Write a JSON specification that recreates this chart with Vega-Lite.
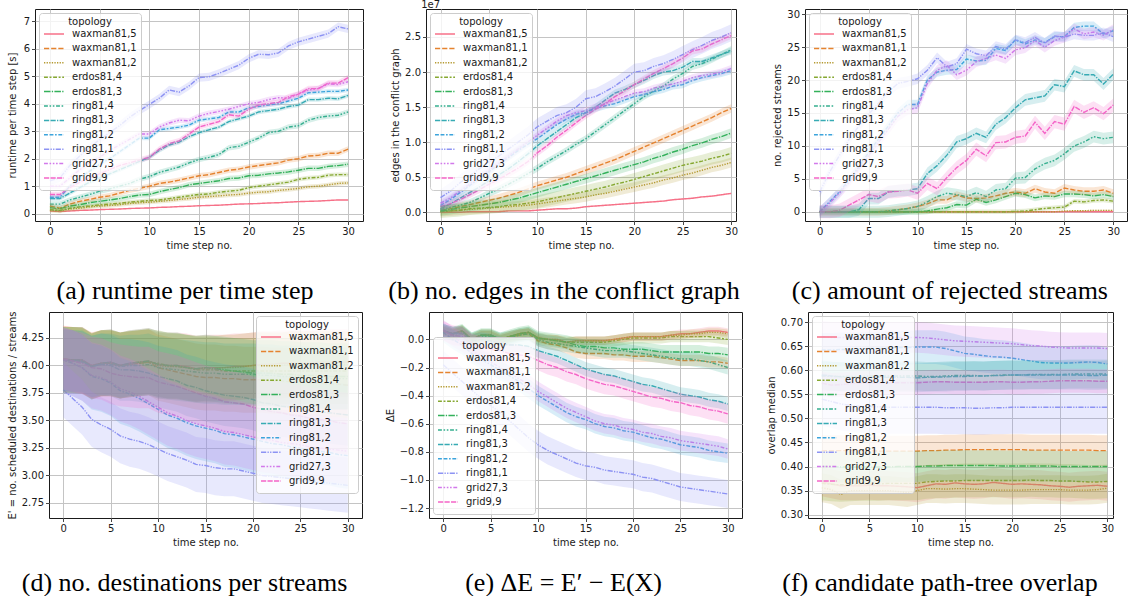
{
"$schema":"https://vega.github.io/schema/vega-lite/v6.json",
"background":"white",
"padding":{"left":6,"top":-1,"right":0,"bottom":0},
"datasets":{
"ser":[
{"k":"w5","n":"waxman81,5","ea":0.02,"eb":0.01,"ec":0.03,"ed":0.3,"ee":0.03,"ef":0.03},
{"k":"w1","n":"waxman81,1","ea":0.1,"eb":0.06,"ec":0.6,"ed":0.3,"ee":0.04,"ef":0.032},
{"k":"w2","n":"waxman81,2","ea":0.08,"eb":0.07,"ec":0.1,"ed":0.3,"ee":0.03,"ef":0.03},
{"k":"e4","n":"erdos81,4","ea":0.08,"eb":0.09,"ec":0.35,"ed":0.3,"ee":0.04,"ef":0.035},
{"k":"e3","n":"erdos81,3","ea":0.1,"eb":0.07,"ec":0.5,"ed":0.3,"ee":0.05,"ef":0.032},
{"k":"r4","n":"ring81,4","ea":0.1,"eb":0.05,"ec":0.9,"ed":0.28,"ee":0.05,"ef":0.03},
{"k":"r3","n":"ring81,3","ea":0.08,"eb":0.05,"ec":0.9,"ed":0.28,"ee":0.05,"ef":0.03},
{"k":"r2","n":"ring81,2","ea":0.08,"eb":0.05,"ec":0.7,"ed":0.3,"ee":0.07,"ef":0.035},
{"k":"r1","n":"ring81,1","ea":0.15,"eb":0.12,"ec":0.8,"ed":0.25,"ee":0.1,"ef":0.055},
{"k":"g27","n":"grid27,3","ea":0.1,"eb":0.05,"ec":0.8,"ed":0.3,"ee":0.07,"ef":0.032},
{"k":"g9","n":"grid9,9","ea":0.1,"eb":0.05,"ec":1.0,"ed":0.28,"ee":0.07,"ef":0.025}
],
"lbl":[{"s":"1e7"}],
"a":[
{"t":0,"w5":0.1,"w1":0.28,"w2":0.12,"e4":0.15,"e3":0.22,"r4":0.35,"r3":0.55,"r2":0.6,"r1":1.2,"g27":1.0,"g9":0.7},
{"t":1,"w5":0.08,"w1":0.2,"w2":0.1,"e4":0.12,"e3":0.18,"r4":0.35,"r3":0.55,"r2":0.6,"r1":1.3,"g27":1.0,"g9":0.7},
{"t":2,"w5":0.1,"w1":0.35,"w2":0.17,"e4":0.2,"e3":0.28,"r4":0.5,"r3":0.75,"r2":1.0,"r1":1.75,"g27":1.3,"g9":0.95},
{"t":3,"w5":0.12,"w1":0.45,"w2":0.2,"e4":0.25,"e3":0.33,"r4":0.6,"r3":0.95,"r2":1.3,"r1":2.1,"g27":1.6,"g9":1.15},
{"t":4,"w5":0.13,"w1":0.52,"w2":0.25,"e4":0.28,"e3":0.4,"r4":0.7,"r3":1.15,"r2":1.55,"r1":2.4,"g27":1.85,"g9":1.3},
{"t":5,"w5":0.15,"w1":0.6,"w2":0.28,"e4":0.32,"e3":0.45,"r4":0.82,"r3":1.3,"r2":1.8,"r1":2.7,"g27":2.05,"g9":1.45},
{"t":6,"w5":0.16,"w1":0.65,"w2":0.3,"e4":0.35,"e3":0.5,"r4":0.9,"r3":1.45,"r2":2.0,"r1":2.95,"g27":2.3,"g9":1.6},
{"t":7,"w5":0.17,"w1":0.75,"w2":0.33,"e4":0.38,"e3":0.55,"r4":1.0,"r3":1.6,"r2":2.25,"r1":3.2,"g27":2.5,"g9":1.75},
{"t":8,"w5":0.19,"w1":0.85,"w2":0.37,"e4":0.42,"e3":0.62,"r4":1.1,"r3":1.75,"r2":2.5,"r1":3.5,"g27":2.7,"g9":1.85},
{"t":9,"w5":0.2,"w1":0.92,"w2":0.4,"e4":0.45,"e3":0.68,"r4":1.25,"r3":1.9,"r2":2.75,"r1":3.75,"g27":2.9,"g9":1.95},
{"t":10,"w5":0.21,"w1":1.0,"w2":0.42,"e4":0.48,"e3":0.7,"r4":1.35,"r3":2.05,"r2":2.75,"r1":3.97,"g27":2.9,"g9":2.05},
{"t":11,"w5":0.23,"w1":1.1,"w2":0.45,"e4":0.5,"e3":0.8,"r4":1.5,"r3":2.3,"r2":3.05,"r1":4.2,"g27":3.15,"g9":2.35},
{"t":12,"w5":0.24,"w1":1.15,"w2":0.48,"e4":0.55,"e3":0.88,"r4":1.6,"r3":2.5,"r2":3.1,"r1":4.5,"g27":3.3,"g9":2.55},
{"t":13,"w5":0.26,"w1":1.22,"w2":0.52,"e4":0.6,"e3":0.95,"r4":1.7,"r3":2.6,"r2":3.15,"r1":4.42,"g27":3.4,"g9":2.65},
{"t":14,"w5":0.27,"w1":1.3,"w2":0.55,"e4":0.65,"e3":1.05,"r4":1.85,"r3":2.8,"r2":3.22,"r1":4.65,"g27":3.38,"g9":2.9},
{"t":15,"w5":0.29,"w1":1.38,"w2":0.6,"e4":0.7,"e3":1.1,"r4":1.97,"r3":2.95,"r2":3.4,"r1":4.95,"g27":3.55,"g9":3.15},
{"t":16,"w5":0.3,"w1":1.42,"w2":0.62,"e4":0.72,"e3":1.15,"r4":2.05,"r3":3.05,"r2":3.45,"r1":4.98,"g27":3.65,"g9":3.25},
{"t":17,"w5":0.31,"w1":1.5,"w2":0.65,"e4":0.78,"e3":1.2,"r4":2.15,"r3":3.15,"r2":3.5,"r1":5.1,"g27":3.72,"g9":3.35},
{"t":18,"w5":0.33,"w1":1.58,"w2":0.68,"e4":0.82,"e3":1.28,"r4":2.4,"r3":3.35,"r2":3.7,"r1":5.25,"g27":3.8,"g9":3.6},
{"t":19,"w5":0.35,"w1":1.62,"w2":0.7,"e4":0.85,"e3":1.3,"r4":2.45,"r3":3.45,"r2":3.7,"r1":5.4,"g27":3.9,"g9":3.55},
{"t":20,"w5":0.36,"w1":1.7,"w2":0.75,"e4":0.95,"e3":1.38,"r4":2.6,"r3":3.55,"r2":3.85,"r1":5.65,"g27":4.0,"g9":3.8},
{"t":21,"w5":0.37,"w1":1.75,"w2":0.78,"e4":1.0,"e3":1.4,"r4":2.75,"r3":3.7,"r2":3.9,"r1":5.8,"g27":4.05,"g9":3.95},
{"t":22,"w5":0.39,"w1":1.8,"w2":0.8,"e4":1.05,"e3":1.45,"r4":2.95,"r3":3.75,"r2":3.95,"r1":5.78,"g27":4.15,"g9":4.0},
{"t":23,"w5":0.4,"w1":1.85,"w2":0.85,"e4":1.1,"e3":1.48,"r4":3.0,"r3":3.8,"r2":4.0,"r1":5.85,"g27":4.22,"g9":4.05},
{"t":24,"w5":0.42,"w1":1.95,"w2":0.88,"e4":1.15,"e3":1.52,"r4":3.15,"r3":3.9,"r2":4.1,"r1":6.1,"g27":4.2,"g9":4.25},
{"t":25,"w5":0.44,"w1":2.0,"w2":0.92,"e4":1.25,"e3":1.58,"r4":3.2,"r3":3.95,"r2":4.2,"r1":6.25,"g27":4.35,"g9":4.35},
{"t":26,"w5":0.45,"w1":2.1,"w2":0.98,"e4":1.3,"e3":1.65,"r4":3.4,"r3":4.15,"r2":4.4,"r1":6.35,"g27":4.5,"g9":4.55},
{"t":27,"w5":0.46,"w1":2.12,"w2":1.0,"e4":1.32,"e3":1.65,"r4":3.5,"r3":4.15,"r2":4.42,"r1":6.45,"g27":4.55,"g9":4.55},
{"t":28,"w5":0.48,"w1":2.2,"w2":1.05,"e4":1.4,"e3":1.72,"r4":3.55,"r3":4.2,"r2":4.45,"r1":6.55,"g27":4.72,"g9":4.75},
{"t":29,"w5":0.5,"w1":2.2,"w2":1.1,"e4":1.42,"e3":1.75,"r4":3.58,"r3":4.18,"r2":4.45,"r1":6.8,"g27":4.7,"g9":4.75},
{"t":30,"w5":0.5,"w1":2.35,"w2":1.12,"e4":1.42,"e3":1.8,"r4":3.7,"r3":4.3,"r2":4.5,"r1":6.72,"g27":4.8,"g9":4.95}
],
"b":[
{"t":0,"w5":0,"w1":0.03,"w2":0.01,"e4":0.01,"e3":0.02,"r4":0.04,"r3":0.05,"r2":0.1,"r1":0.21,"g27":0.13,"g9":0.08},
{"t":1,"w5":0,"w1":0.05,"w2":0.02,"e4":0.02,"e3":0.04,"r4":0.07,"r3":0.12,"r2":0.18,"r1":0.3,"g27":0.2,"g9":0.12},
{"t":2,"w5":0,"w1":0.08,"w2":0.03,"e4":0.03,"e3":0.06,"r4":0.1,"r3":0.2,"r2":0.28,"r1":0.42,"g27":0.3,"g9":0.18},
{"t":3,"w5":0.01,"w1":0.11,"w2":0.04,"e4":0.05,"e3":0.08,"r4":0.14,"r3":0.28,"r2":0.38,"r1":0.52,"g27":0.4,"g9":0.25},
{"t":4,"w5":0.01,"w1":0.14,"w2":0.05,"e4":0.06,"e3":0.1,"r4":0.2,"r3":0.36,"r2":0.48,"r1":0.62,"g27":0.5,"g9":0.32},
{"t":5,"w5":0.01,"w1":0.17,"w2":0.06,"e4":0.07,"e3":0.12,"r4":0.27,"r3":0.45,"r2":0.58,"r1":0.72,"g27":0.6,"g9":0.4},
{"t":6,"w5":0.01,"w1":0.2,"w2":0.07,"e4":0.08,"e3":0.14,"r4":0.33,"r3":0.53,"r2":0.68,"r1":0.8,"g27":0.7,"g9":0.47},
{"t":7,"w5":0.02,"w1":0.24,"w2":0.08,"e4":0.1,"e3":0.17,"r4":0.4,"r3":0.62,"r2":0.78,"r1":0.9,"g27":0.8,"g9":0.55},
{"t":8,"w5":0.02,"w1":0.28,"w2":0.09,"e4":0.11,"e3":0.2,"r4":0.47,"r3":0.72,"r2":0.88,"r1":1.0,"g27":0.9,"g9":0.63},
{"t":9,"w5":0.02,"w1":0.33,"w2":0.1,"e4":0.13,"e3":0.24,"r4":0.55,"r3":0.83,"r2":0.97,"r1":1.1,"g27":1.0,"g9":0.72},
{"t":10,"w5":0.03,"w1":0.38,"w2":0.12,"e4":0.15,"e3":0.28,"r4":0.63,"r3":0.95,"r2":1.05,"r1":1.22,"g27":1.1,"g9":0.85},
{"t":11,"w5":0.04,"w1":0.42,"w2":0.14,"e4":0.18,"e3":0.32,"r4":0.72,"r3":1.05,"r2":1.15,"r1":1.3,"g27":1.2,"g9":0.95},
{"t":12,"w5":0.05,"w1":0.46,"w2":0.16,"e4":0.21,"e3":0.36,"r4":0.8,"r3":1.15,"r2":1.25,"r1":1.38,"g27":1.3,"g9":1.07},
{"t":13,"w5":0.05,"w1":0.5,"w2":0.18,"e4":0.24,"e3":0.4,"r4":0.88,"r3":1.25,"r2":1.33,"r1":1.42,"g27":1.38,"g9":1.17},
{"t":14,"w5":0.06,"w1":0.55,"w2":0.2,"e4":0.27,"e3":0.44,"r4":0.97,"r3":1.35,"r2":1.4,"r1":1.5,"g27":1.42,"g9":1.28},
{"t":15,"w5":0.08,"w1":0.6,"w2":0.22,"e4":0.3,"e3":0.48,"r4":1.05,"r3":1.42,"r2":1.42,"r1":1.62,"g27":1.45,"g9":1.38},
{"t":16,"w5":0.09,"w1":0.65,"w2":0.25,"e4":0.33,"e3":0.52,"r4":1.15,"r3":1.5,"r2":1.48,"r1":1.65,"g27":1.5,"g9":1.47},
{"t":17,"w5":0.1,"w1":0.7,"w2":0.27,"e4":0.36,"e3":0.56,"r4":1.25,"r3":1.6,"r2":1.52,"r1":1.72,"g27":1.55,"g9":1.55},
{"t":18,"w5":0.11,"w1":0.75,"w2":0.3,"e4":0.4,"e3":0.6,"r4":1.35,"r3":1.7,"r2":1.55,"r1":1.8,"g27":1.6,"g9":1.65},
{"t":19,"w5":0.12,"w1":0.81,"w2":0.33,"e4":0.43,"e3":0.64,"r4":1.45,"r3":1.75,"r2":1.6,"r1":1.9,"g27":1.65,"g9":1.73},
{"t":20,"w5":0.13,"w1":0.87,"w2":0.36,"e4":0.47,"e3":0.68,"r4":1.55,"r3":1.82,"r2":1.65,"r1":2.0,"g27":1.7,"g9":1.82},
{"t":21,"w5":0.14,"w1":0.93,"w2":0.39,"e4":0.51,"e3":0.72,"r4":1.65,"r3":1.88,"r2":1.68,"r1":2.02,"g27":1.72,"g9":1.9},
{"t":22,"w5":0.15,"w1":0.99,"w2":0.42,"e4":0.55,"e3":0.77,"r4":1.73,"r3":1.95,"r2":1.72,"r1":2.08,"g27":1.77,"g9":1.98},
{"t":23,"w5":0.16,"w1":1.05,"w2":0.46,"e4":0.59,"e3":0.81,"r4":1.8,"r3":2.0,"r2":1.75,"r1":2.12,"g27":1.8,"g9":2.05},
{"t":24,"w5":0.18,"w1":1.11,"w2":0.49,"e4":0.63,"e3":0.86,"r4":1.9,"r3":2.02,"r2":1.8,"r1":2.18,"g27":1.83,"g9":2.12},
{"t":25,"w5":0.19,"w1":1.17,"w2":0.53,"e4":0.67,"e3":0.9,"r4":1.98,"r3":2.07,"r2":1.82,"r1":2.25,"g27":1.87,"g9":2.2},
{"t":26,"w5":0.2,"w1":1.23,"w2":0.56,"e4":0.7,"e3":0.95,"r4":2.08,"r3":2.15,"r2":1.88,"r1":2.32,"g27":1.92,"g9":2.3},
{"t":27,"w5":0.22,"w1":1.29,"w2":0.6,"e4":0.73,"e3":0.99,"r4":2.12,"r3":2.15,"r2":1.92,"r1":2.38,"g27":1.95,"g9":2.33},
{"t":28,"w5":0.23,"w1":1.35,"w2":0.64,"e4":0.77,"e3":1.04,"r4":2.18,"r3":2.2,"r2":1.95,"r1":2.45,"g27":1.97,"g9":2.4},
{"t":29,"w5":0.25,"w1":1.42,"w2":0.67,"e4":0.8,"e3":1.08,"r4":2.25,"r3":2.25,"r2":1.98,"r1":2.5,"g27":2.0,"g9":2.46},
{"t":30,"w5":0.27,"w1":1.48,"w2":0.71,"e4":0.84,"e3":1.13,"r4":2.32,"r3":2.3,"r2":2.02,"r1":2.56,"g27":2.05,"g9":2.52}
],
"c":[
{"t":0,"w5":0,"w1":0,"w2":0,"e4":0,"e3":0,"r4":0,"r3":0,"r2":0,"r1":3,"g27":0,"g9":0},
{"t":1,"w5":0,"w1":0,"w2":0,"e4":0,"e3":0,"r4":0,"r3":0,"r2":1.5,"r1":6,"g27":1.3,"g9":0},
{"t":2,"w5":0,"w1":0,"w2":0,"e4":0,"e3":0,"r4":0,"r3":0,"r2":3,"r1":8.5,"g27":2.8,"g9":0.2},
{"t":3,"w5":0,"w1":0,"w2":0,"e4":0,"e3":0,"r4":0,"r3":0,"r2":4.8,"r1":11,"g27":4.5,"g9":1},
{"t":4,"w5":0,"w1":0,"w2":0,"e4":0,"e3":0,"r4":0,"r3":0.3,"r2":6.8,"r1":13,"g27":6.5,"g9":1.8},
{"t":5,"w5":0,"w1":0,"w2":0,"e4":0,"e3":0,"r4":0,"r3":2,"r2":9,"r1":14.8,"g27":8.5,"g9":2.6},
{"t":6,"w5":0,"w1":0,"w2":0,"e4":0,"e3":0,"r4":0,"r3":2,"r2":11,"r1":16.5,"g27":10.5,"g9":2.3},
{"t":7,"w5":0,"w1":0.1,"w2":0,"e4":0,"e3":0,"r4":0.1,"r3":3,"r2":13,"r1":18.2,"g27":12.5,"g9":3},
{"t":8,"w5":0,"w1":0.3,"w2":0,"e4":0,"e3":0,"r4":0.3,"r3":3.2,"r2":15,"r1":19.5,"g27":14.5,"g9":3.1},
{"t":9,"w5":0,"w1":0.5,"w2":0,"e4":0,"e3":0,"r4":0.5,"r3":3.3,"r2":16.3,"r1":19.8,"g27":15.5,"g9":3.3},
{"t":10,"w5":0,"w1":0.8,"w2":0,"e4":0,"e3":0,"r4":0.8,"r3":3.5,"r2":16.3,"r1":20.2,"g27":15.8,"g9":2.8},
{"t":11,"w5":0,"w1":1.2,"w2":0,"e4":0,"e3":0.1,"r4":1.5,"r3":5.8,"r2":20,"r1":21.5,"g27":19.5,"g9":4.3},
{"t":12,"w5":0,"w1":1.8,"w2":0,"e4":0,"e3":0.4,"r4":2.3,"r3":7,"r2":21.2,"r1":23.4,"g27":21.5,"g9":3.5},
{"t":13,"w5":0,"w1":1.8,"w2":0,"e4":0,"e3":0.6,"r4":2.8,"r3":8.6,"r2":21.5,"r1":22,"g27":22.2,"g9":5.2},
{"t":14,"w5":0,"w1":2.5,"w2":0,"e4":0,"e3":1.1,"r4":2.6,"r3":10.6,"r2":21.6,"r1":22.5,"g27":20.8,"g9":6.7},
{"t":15,"w5":0,"w1":2.1,"w2":0,"e4":0,"e3":1,"r4":2.3,"r3":11.1,"r2":23.2,"r1":24.7,"g27":21.5,"g9":7.8},
{"t":16,"w5":0,"w1":2,"w2":0,"e4":0,"e3":1.9,"r4":2.9,"r3":11.9,"r2":22.9,"r1":24,"g27":22.8,"g9":9.5},
{"t":17,"w5":0,"w1":2.1,"w2":0,"e4":0,"e3":1.4,"r4":2.3,"r3":11.3,"r2":23,"r1":23.7,"g27":23.3,"g9":8.5},
{"t":18,"w5":0,"w1":2.4,"w2":0,"e4":0,"e3":1.8,"r4":3.3,"r3":13.3,"r2":24.8,"r1":25.1,"g27":23.8,"g9":10.5},
{"t":19,"w5":0,"w1":2.8,"w2":0,"e4":0,"e3":2.3,"r4":3.5,"r3":14.3,"r2":24.5,"r1":24.7,"g27":23.3,"g9":10.6},
{"t":20,"w5":0,"w1":3,"w2":0,"e4":0.05,"e3":2.8,"r4":5.1,"r3":15.8,"r2":26.1,"r1":26.1,"g27":24.6,"g9":11.3},
{"t":21,"w5":0,"w1":2.8,"w2":0,"e4":0.1,"e3":2.6,"r4":5.2,"r3":17,"r2":25.5,"r1":25.7,"g27":24.9,"g9":11.5},
{"t":22,"w5":0,"w1":3.5,"w2":0,"e4":0.3,"e3":2.1,"r4":6.5,"r3":17.3,"r2":26.1,"r1":26.5,"g27":26,"g9":13.6},
{"t":23,"w5":0,"w1":3,"w2":0,"e4":0.5,"e3":2.4,"r4":7.3,"r3":17.6,"r2":25.7,"r1":25.6,"g27":25,"g9":11.9},
{"t":24,"w5":0,"w1":2.8,"w2":0,"e4":0.6,"e3":2.3,"r4":7.8,"r3":19.3,"r2":26.6,"r1":26.7,"g27":26,"g9":13.7},
{"t":25,"w5":0,"w1":3.6,"w2":0.1,"e4":0.7,"e3":2.7,"r4":8.8,"r3":19,"r2":26.6,"r1":26.5,"g27":26.5,"g9":13.3},
{"t":26,"w5":0,"w1":3.3,"w2":0.15,"e4":1.6,"e3":2.7,"r4":10,"r3":21.4,"r2":28,"r1":27,"g27":27.8,"g9":16},
{"t":27,"w5":0,"w1":3.1,"w2":0.15,"e4":1.5,"e3":2.6,"r4":10.6,"r3":20.8,"r2":28.2,"r1":26.8,"g27":27,"g9":15.1},
{"t":28,"w5":0,"w1":3.1,"w2":0.2,"e4":1.7,"e3":2.4,"r4":11.4,"r3":20.8,"r2":28.2,"r1":26.8,"g27":27.3,"g9":15.8},
{"t":29,"w5":0,"w1":3.3,"w2":0.2,"e4":1.8,"e3":2.6,"r4":11.1,"r3":19.4,"r2":27,"r1":27.2,"g27":26.8,"g9":14.9},
{"t":30,"w5":0,"w1":2.8,"w2":0.2,"e4":1.6,"e3":2.3,"r4":11.3,"r3":20.9,"r2":27.5,"r1":26.6,"g27":27.7,"g9":16.2}
],
"d":[
{"t":0,"w5":4.06,"w1":4.06,"w2":4.05,"e4":4.05,"e3":4.05,"r4":4.05,"r3":4.05,"r2":4.05,"r1":3.78,"g27":4.05,"g9":4.06},
{"t":1,"w5":4.05,"w1":4.05,"w2":4.05,"e4":4.05,"e3":4.05,"r4":4.04,"r3":4.04,"r2":4.02,"r1":3.7,"g27":4.02,"g9":4.04},
{"t":2,"w5":4.05,"w1":4.05,"w2":4.04,"e4":4.04,"e3":4.05,"r4":4.04,"r3":4.03,"r2":3.98,"r1":3.62,"g27":3.98,"g9":4.02},
{"t":3,"w5":4.0,"w1":3.99,"w2":4.0,"e4":3.99,"e3":3.99,"r4":3.99,"r3":3.99,"r2":3.9,"r1":3.51,"g27":3.91,"g9":3.98},
{"t":4,"w5":4.02,"w1":4.02,"w2":4.02,"e4":4.02,"e3":4.02,"r4":4.01,"r3":4.01,"r2":3.88,"r1":3.46,"g27":3.89,"g9":3.97},
{"t":5,"w5":4.03,"w1":4.02,"w2":4.02,"e4":4.02,"e3":4.03,"r4":4.01,"r3":4.0,"r2":3.84,"r1":3.42,"g27":3.85,"g9":3.93},
{"t":6,"w5":4.0,"w1":4.0,"w2":4.0,"e4":4.0,"e3":4.0,"r4":3.99,"r3":3.96,"r2":3.77,"r1":3.36,"g27":3.79,"g9":3.91},
{"t":7,"w5":4.02,"w1":4.01,"w2":4.01,"e4":4.01,"e3":4.02,"r4":4.0,"r3":3.96,"r2":3.74,"r1":3.33,"g27":3.76,"g9":3.9},
{"t":8,"w5":4.03,"w1":4.02,"w2":4.02,"e4":4.02,"e3":4.03,"r4":4.0,"r3":3.95,"r2":3.7,"r1":3.31,"g27":3.72,"g9":3.89},
{"t":9,"w5":4.04,"w1":4.03,"w2":4.03,"e4":4.03,"e3":4.04,"r4":4.01,"r3":3.93,"r2":3.65,"r1":3.28,"g27":3.67,"g9":3.89},
{"t":10,"w5":4.01,"w1":3.98,"w2":4.0,"e4":4.02,"e3":4.01,"r4":3.98,"r3":3.9,"r2":3.6,"r1":3.24,"g27":3.62,"g9":3.85},
{"t":11,"w5":4.0,"w1":3.96,"w2":3.99,"e4":4.0,"e3":4.0,"r4":3.97,"r3":3.88,"r2":3.55,"r1":3.2,"g27":3.57,"g9":3.83},
{"t":12,"w5":4.0,"w1":3.94,"w2":3.99,"e4":3.99,"e3":4.0,"r4":3.96,"r3":3.86,"r2":3.52,"r1":3.17,"g27":3.54,"g9":3.81},
{"t":13,"w5":3.99,"w1":3.92,"w2":3.98,"e4":3.98,"e3":3.98,"r4":3.95,"r3":3.82,"r2":3.48,"r1":3.14,"g27":3.5,"g9":3.78},
{"t":14,"w5":3.97,"w1":3.9,"w2":3.97,"e4":3.96,"e3":3.97,"r4":3.94,"r3":3.8,"r2":3.45,"r1":3.1,"g27":3.47,"g9":3.75},
{"t":15,"w5":3.98,"w1":3.89,"w2":3.97,"e4":3.96,"e3":3.98,"r4":3.93,"r3":3.77,"r2":3.43,"r1":3.09,"g27":3.45,"g9":3.72},
{"t":16,"w5":3.98,"w1":3.89,"w2":3.97,"e4":3.96,"e3":3.97,"r4":3.93,"r3":3.75,"r2":3.41,"r1":3.07,"g27":3.43,"g9":3.7},
{"t":17,"w5":3.98,"w1":3.88,"w2":3.98,"e4":3.95,"e3":3.96,"r4":3.92,"r3":3.73,"r2":3.38,"r1":3.06,"g27":3.4,"g9":3.67},
{"t":18,"w5":3.99,"w1":3.88,"w2":3.98,"e4":3.95,"e3":3.95,"r4":3.92,"r3":3.72,"r2":3.37,"r1":3.06,"g27":3.39,"g9":3.66},
{"t":19,"w5":3.99,"w1":3.87,"w2":3.99,"e4":3.95,"e3":3.94,"r4":3.92,"r3":3.71,"r2":3.35,"r1":3.04,"g27":3.37,"g9":3.65},
{"t":20,"w5":4.0,"w1":3.87,"w2":4.0,"e4":3.95,"e3":3.93,"r4":3.92,"r3":3.69,"r2":3.33,"r1":3.02,"g27":3.35,"g9":3.62},
{"t":21,"w5":4.01,"w1":3.87,"w2":4.0,"e4":3.95,"e3":3.93,"r4":3.91,"r3":3.66,"r2":3.31,"r1":3.0,"g27":3.33,"g9":3.6},
{"t":22,"w5":4.01,"w1":3.86,"w2":4.0,"e4":3.95,"e3":3.93,"r4":3.91,"r3":3.65,"r2":3.29,"r1":2.99,"g27":3.32,"g9":3.58},
{"t":23,"w5":4.02,"w1":3.86,"w2":4.0,"e4":3.95,"e3":3.92,"r4":3.9,"r3":3.63,"r2":3.28,"r1":2.98,"g27":3.3,"g9":3.57},
{"t":24,"w5":4.02,"w1":3.85,"w2":4.01,"e4":3.95,"e3":3.92,"r4":3.9,"r3":3.62,"r2":3.26,"r1":2.97,"g27":3.29,"g9":3.55},
{"t":25,"w5":4.02,"w1":3.85,"w2":4.01,"e4":3.95,"e3":3.91,"r4":3.9,"r3":3.61,"r2":3.25,"r1":2.96,"g27":3.28,"g9":3.54},
{"t":26,"w5":4.02,"w1":3.84,"w2":4.01,"e4":3.95,"e3":3.91,"r4":3.89,"r3":3.59,"r2":3.23,"r1":2.95,"g27":3.26,"g9":3.52},
{"t":27,"w5":4.03,"w1":3.84,"w2":4.01,"e4":3.95,"e3":3.91,"r4":3.89,"r3":3.58,"r2":3.22,"r1":2.94,"g27":3.25,"g9":3.51},
{"t":28,"w5":4.03,"w1":3.83,"w2":4.01,"e4":3.95,"e3":3.9,"r4":3.88,"r3":3.57,"r2":3.21,"r1":2.93,"g27":3.24,"g9":3.5},
{"t":29,"w5":4.03,"w1":3.83,"w2":4.01,"e4":3.95,"e3":3.9,"r4":3.88,"r3":3.56,"r2":3.19,"r1":2.92,"g27":3.23,"g9":3.48},
{"t":30,"w5":4.03,"w1":3.82,"w2":4.01,"e4":3.95,"e3":3.9,"r4":3.88,"r3":3.55,"r2":3.18,"r1":2.91,"g27":3.22,"g9":3.47}
],
"e":[
{"t":0,"w5":0.06,"w1":0.06,"w2":0.06,"e4":0.06,"e3":0.06,"r4":0.06,"r3":0.06,"r2":0.05,"r1":-0.18,"g27":0.07,"g9":0.06},
{"t":1,"w5":0.04,"w1":0.04,"w2":0.04,"e4":0.04,"e3":0.04,"r4":0.04,"r3":0.04,"r2":0,"r1":-0.24,"g27":0.02,"g9":0.03},
{"t":2,"w5":0.06,"w1":0.06,"w2":0.06,"e4":0.06,"e3":0.06,"r4":0.05,"r3":0.04,"r2":-0.04,"r1":-0.3,"g27":-0.02,"g9":0.02},
{"t":3,"w5":0,"w1":0,"w2":0,"e4":0,"e3":0,"r4":0,"r3":-0.01,"r2":-0.1,"r1":-0.36,"g27":-0.08,"g9":-0.03},
{"t":4,"w5":0.03,"w1":0.03,"w2":0.03,"e4":0.03,"e3":0.03,"r4":0.02,"r3":0,"r2":-0.14,"r1":-0.42,"g27":-0.12,"g9":-0.05},
{"t":5,"w5":0.03,"w1":0.03,"w2":0.03,"e4":0.03,"e3":0.03,"r4":0.02,"r3":-0.01,"r2":-0.18,"r1":-0.47,"g27":-0.16,"g9":-0.07},
{"t":6,"w5":0,"w1":0,"w2":0,"e4":0,"e3":0,"r4":0,"r3":-0.03,"r2":-0.22,"r1":-0.52,"g27":-0.2,"g9":-0.08},
{"t":7,"w5":0.02,"w1":0.02,"w2":0.02,"e4":0.02,"e3":0.02,"r4":0.01,"r3":-0.04,"r2":-0.26,"r1":-0.58,"g27":-0.24,"g9":-0.1},
{"t":8,"w5":0.04,"w1":0.03,"w2":0.04,"e4":0.04,"e3":0.04,"r4":0.03,"r3":-0.04,"r2":-0.3,"r1":-0.64,"g27":-0.28,"g9":-0.11},
{"t":9,"w5":0.05,"w1":0.04,"w2":0.05,"e4":0.05,"e3":0.05,"r4":0.04,"r3":-0.05,"r2":-0.35,"r1":-0.7,"g27":-0.32,"g9":-0.12},
{"t":10,"w5":0.01,"w1":-0.01,"w2":0.01,"e4":0.01,"e3":0.01,"r4":0,"r3":-0.08,"r2":-0.4,"r1":-0.75,"g27":-0.37,"g9":-0.15},
{"t":11,"w5":0,"w1":-0.03,"w2":0,"e4":0,"e3":0,"r4":-0.02,"r3":-0.1,"r2":-0.44,"r1":-0.79,"g27":-0.41,"g9":-0.18},
{"t":12,"w5":0,"w1":-0.04,"w2":0,"e4":-0.01,"e3":-0.01,"r4":-0.03,"r3":-0.12,"r2":-0.48,"r1":-0.82,"g27":-0.45,"g9":-0.2},
{"t":13,"w5":-0.02,"w1":-0.06,"w2":-0.02,"e4":-0.02,"e3":-0.02,"r4":-0.04,"r3":-0.15,"r2":-0.52,"r1":-0.85,"g27":-0.49,"g9":-0.23},
{"t":14,"w5":-0.01,"w1":-0.09,"w2":-0.01,"e4":-0.02,"e3":-0.04,"r4":-0.05,"r3":-0.18,"r2":-0.55,"r1":-0.88,"g27":-0.52,"g9":-0.25},
{"t":15,"w5":-0.01,"w1":-0.1,"w2":-0.01,"e4":-0.02,"e3":-0.05,"r4":-0.06,"r3":-0.21,"r2":-0.57,"r1":-0.9,"g27":-0.55,"g9":-0.28},
{"t":16,"w5":-0.01,"w1":-0.1,"w2":-0.01,"e4":-0.02,"e3":-0.05,"r4":-0.07,"r3":-0.23,"r2":-0.6,"r1":-0.91,"g27":-0.58,"g9":-0.3},
{"t":17,"w5":-0.01,"w1":-0.1,"w2":-0.01,"e4":-0.02,"e3":-0.06,"r4":-0.08,"r3":-0.25,"r2":-0.62,"r1":-0.93,"g27":-0.6,"g9":-0.32},
{"t":18,"w5":0,"w1":-0.11,"w2":0,"e4":-0.01,"e3":-0.06,"r4":-0.08,"r3":-0.26,"r2":-0.63,"r1":-0.94,"g27":-0.61,"g9":-0.33},
{"t":19,"w5":0.01,"w1":-0.11,"w2":0.01,"e4":0,"e3":-0.07,"r4":-0.08,"r3":-0.28,"r2":-0.65,"r1":-0.95,"g27":-0.63,"g9":-0.35},
{"t":20,"w5":0.02,"w1":-0.12,"w2":0.02,"e4":0.01,"e3":-0.07,"r4":-0.09,"r3":-0.3,"r2":-0.66,"r1":-0.96,"g27":-0.64,"g9":-0.37},
{"t":21,"w5":0.02,"w1":-0.12,"w2":0.02,"e4":0.01,"e3":-0.07,"r4":-0.1,"r3":-0.32,"r2":-0.68,"r1":-0.98,"g27":-0.66,"g9":-0.39},
{"t":22,"w5":0.02,"w1":-0.12,"w2":0.02,"e4":0.01,"e3":-0.08,"r4":-0.11,"r3":-0.33,"r2":-0.7,"r1":-0.99,"g27":-0.67,"g9":-0.41},
{"t":23,"w5":0.02,"w1":-0.13,"w2":0.02,"e4":0.01,"e3":-0.09,"r4":-0.12,"r3":-0.35,"r2":-0.71,"r1":-1.01,"g27":-0.69,"g9":-0.42},
{"t":24,"w5":0.03,"w1":-0.14,"w2":0.03,"e4":0.02,"e3":-0.09,"r4":-0.13,"r3":-0.37,"r2":-0.73,"r1":-1.03,"g27":-0.7,"g9":-0.44},
{"t":25,"w5":0.04,"w1":-0.15,"w2":0.03,"e4":0.02,"e3":-0.09,"r4":-0.14,"r3":-0.39,"r2":-0.75,"r1":-1.05,"g27":-0.72,"g9":-0.45},
{"t":26,"w5":0.04,"w1":-0.15,"w2":0.04,"e4":0.02,"e3":-0.09,"r4":-0.14,"r3":-0.4,"r2":-0.76,"r1":-1.06,"g27":-0.73,"g9":-0.47},
{"t":27,"w5":0.05,"w1":-0.15,"w2":0.04,"e4":0.02,"e3":-0.09,"r4":-0.15,"r3":-0.41,"r2":-0.77,"r1":-1.07,"g27":-0.74,"g9":-0.48},
{"t":28,"w5":0.06,"w1":-0.16,"w2":0.05,"e4":0.02,"e3":-0.1,"r4":-0.16,"r3":-0.43,"r2":-0.79,"r1":-1.08,"g27":-0.75,"g9":-0.5},
{"t":29,"w5":0.06,"w1":-0.16,"w2":0.05,"e4":0.01,"e3":-0.1,"r4":-0.18,"r3":-0.44,"r2":-0.8,"r1":-1.09,"g27":-0.76,"g9":-0.51},
{"t":30,"w5":0.05,"w1":-0.17,"w2":0.04,"e4":0,"e3":-0.11,"r4":-0.2,"r3":-0.46,"r2":-0.81,"r1":-1.1,"g27":-0.78,"g9":-0.53}
],
"f":[
{"t":0,"w5":0.368,"w1":0.433,"w2":0.356,"e4":0.365,"e3":0.4,"r4":0.588,"r3":0.59,"r2":0.642,"r1":0.54,"g27":0.67,"g9":0.573},
{"t":1,"w5":0.364,"w1":0.433,"w2":0.352,"e4":0.363,"e3":0.4,"r4":0.587,"r3":0.588,"r2":0.642,"r1":0.535,"g27":0.668,"g9":0.569},
{"t":2,"w5":0.36,"w1":0.433,"w2":0.342,"e4":0.362,"e3":0.399,"r4":0.587,"r3":0.586,"r2":0.643,"r1":0.53,"g27":0.668,"g9":0.57},
{"t":3,"w5":0.36,"w1":0.433,"w2":0.35,"e4":0.363,"e3":0.399,"r4":0.587,"r3":0.585,"r2":0.643,"r1":0.527,"g27":0.668,"g9":0.572},
{"t":4,"w5":0.36,"w1":0.433,"w2":0.35,"e4":0.364,"e3":0.399,"r4":0.587,"r3":0.585,"r2":0.644,"r1":0.525,"g27":0.667,"g9":0.573},
{"t":5,"w5":0.361,"w1":0.433,"w2":0.35,"e4":0.364,"e3":0.399,"r4":0.588,"r3":0.585,"r2":0.645,"r1":0.524,"g27":0.667,"g9":0.573},
{"t":6,"w5":0.36,"w1":0.432,"w2":0.35,"e4":0.364,"e3":0.399,"r4":0.588,"r3":0.585,"r2":0.645,"r1":0.524,"g27":0.667,"g9":0.573},
{"t":7,"w5":0.36,"w1":0.432,"w2":0.35,"e4":0.365,"e3":0.399,"r4":0.588,"r3":0.585,"r2":0.646,"r1":0.523,"g27":0.668,"g9":0.574},
{"t":8,"w5":0.359,"w1":0.432,"w2":0.348,"e4":0.365,"e3":0.4,"r4":0.588,"r3":0.585,"r2":0.647,"r1":0.523,"g27":0.668,"g9":0.574},
{"t":9,"w5":0.358,"w1":0.432,"w2":0.346,"e4":0.365,"e3":0.4,"r4":0.588,"r3":0.585,"r2":0.647,"r1":0.523,"g27":0.668,"g9":0.574},
{"t":10,"w5":0.356,"w1":0.432,"w2":0.35,"e4":0.365,"e3":0.4,"r4":0.588,"r3":0.584,"r2":0.648,"r1":0.523,"g27":0.668,"g9":0.574},
{"t":11,"w5":0.36,"w1":0.433,"w2":0.354,"e4":0.368,"e3":0.401,"r4":0.587,"r3":0.585,"r2":0.648,"r1":0.523,"g27":0.667,"g9":0.575},
{"t":12,"w5":0.364,"w1":0.433,"w2":0.354,"e4":0.369,"e3":0.401,"r4":0.587,"r3":0.586,"r2":0.648,"r1":0.523,"g27":0.665,"g9":0.576},
{"t":13,"w5":0.363,"w1":0.434,"w2":0.353,"e4":0.37,"e3":0.402,"r4":0.588,"r3":0.586,"r2":0.645,"r1":0.522,"g27":0.663,"g9":0.576},
{"t":14,"w5":0.366,"w1":0.434,"w2":0.354,"e4":0.37,"e3":0.402,"r4":0.589,"r3":0.587,"r2":0.64,"r1":0.522,"g27":0.661,"g9":0.575},
{"t":15,"w5":0.364,"w1":0.435,"w2":0.354,"e4":0.371,"e3":0.402,"r4":0.589,"r3":0.587,"r2":0.635,"r1":0.522,"g27":0.66,"g9":0.575},
{"t":16,"w5":0.363,"w1":0.435,"w2":0.353,"e4":0.371,"e3":0.402,"r4":0.589,"r3":0.588,"r2":0.633,"r1":0.521,"g27":0.659,"g9":0.575},
{"t":17,"w5":0.364,"w1":0.435,"w2":0.352,"e4":0.371,"e3":0.402,"r4":0.588,"r3":0.588,"r2":0.63,"r1":0.521,"g27":0.658,"g9":0.575},
{"t":18,"w5":0.367,"w1":0.435,"w2":0.351,"e4":0.371,"e3":0.402,"r4":0.589,"r3":0.589,"r2":0.628,"r1":0.522,"g27":0.657,"g9":0.576},
{"t":19,"w5":0.365,"w1":0.435,"w2":0.351,"e4":0.371,"e3":0.401,"r4":0.59,"r3":0.589,"r2":0.627,"r1":0.522,"g27":0.656,"g9":0.576},
{"t":20,"w5":0.363,"w1":0.435,"w2":0.351,"e4":0.371,"e3":0.401,"r4":0.59,"r3":0.59,"r2":0.625,"r1":0.523,"g27":0.655,"g9":0.575},
{"t":21,"w5":0.364,"w1":0.435,"w2":0.351,"e4":0.371,"e3":0.401,"r4":0.59,"r3":0.59,"r2":0.622,"r1":0.523,"g27":0.653,"g9":0.575},
{"t":22,"w5":0.363,"w1":0.434,"w2":0.352,"e4":0.372,"e3":0.401,"r4":0.591,"r3":0.59,"r2":0.619,"r1":0.523,"g27":0.651,"g9":0.576},
{"t":23,"w5":0.362,"w1":0.434,"w2":0.352,"e4":0.371,"e3":0.401,"r4":0.591,"r3":0.59,"r2":0.616,"r1":0.523,"g27":0.65,"g9":0.576},
{"t":24,"w5":0.36,"w1":0.434,"w2":0.352,"e4":0.371,"e3":0.401,"r4":0.591,"r3":0.59,"r2":0.615,"r1":0.523,"g27":0.648,"g9":0.577},
{"t":25,"w5":0.359,"w1":0.434,"w2":0.352,"e4":0.37,"e3":0.4,"r4":0.591,"r3":0.59,"r2":0.615,"r1":0.523,"g27":0.647,"g9":0.578},
{"t":26,"w5":0.357,"w1":0.434,"w2":0.351,"e4":0.37,"e3":0.4,"r4":0.592,"r3":0.59,"r2":0.615,"r1":0.523,"g27":0.646,"g9":0.578},
{"t":27,"w5":0.359,"w1":0.434,"w2":0.351,"e4":0.369,"e3":0.4,"r4":0.592,"r3":0.59,"r2":0.616,"r1":0.523,"g27":0.646,"g9":0.578},
{"t":28,"w5":0.36,"w1":0.434,"w2":0.351,"e4":0.368,"e3":0.4,"r4":0.592,"r3":0.589,"r2":0.617,"r1":0.523,"g27":0.646,"g9":0.578},
{"t":29,"w5":0.361,"w1":0.433,"w2":0.352,"e4":0.368,"e3":0.4,"r4":0.592,"r3":0.589,"r2":0.616,"r1":0.523,"g27":0.646,"g9":0.577},
{"t":30,"w5":0.359,"w1":0.433,"w2":0.355,"e4":0.369,"e3":0.4,"r4":0.592,"r3":0.59,"r2":0.613,"r1":0.523,"g27":0.645,"g9":0.577}
]
},
"vconcat":[
{"hconcat":[
{"width":328,"height":212,"title":{"text":"(a) runtime per time step","offset":27},"data":{"name":"a"},
"transform":[{"fold":["w5","w1","w2","e4","e3","r4","r3","r2","r1","g27","g9"],"as":["k","m"]},{"lookup":"k","from":{"data":{"name":"ser"},"key":"k","fields":["n","ea"]}}],
"encoding":{
"x":{"field":"t","type":"quantitative","scale":{"domain":[-1.5,31.5],"nice":false,"zero":false},"axis":{"values":[0,5,10,15,20,25,30],"format":"d","title":"time step no."}},
"y":{"field":"m","type":"quantitative","scale":{"domain":[-0.265,7.444],"nice":false,"zero":false},"axis":{"values":[0,1,2,3,4,5,6,7],"format":"d","title":"runtime per time step [s]","titlePadding":6}},
"color":{"field":"n","type":"nominal","scale":{"domain":["waxman81,5","waxman81,1","waxman81,2","erdos81,4","erdos81,3","ring81,4","ring81,3","ring81,2","ring81,1","grid27,3","grid9,9"],"range":["#f77189","#e5832f","#b59a32","#86a831","#33b15a","#35af8f","#37abb4","#3ca4dc","#8d93f3","#d279eb","#f565c8"]},"legend":{"title":"topology"}}},
"layer":[
{"mark":{"type":"line","strokeWidth":1.4,"clip":true},"encoding":{"strokeDash":{"field":"n","type":"nominal","scale":{"domain":["waxman81,5","waxman81,1","waxman81,2","erdos81,4","erdos81,3","ring81,4","ring81,3","ring81,2","ring81,1","grid27,3","grid9,9"],"range":[[1,0],[5.2,1.95],[1.3,1.3],[3.9,1.63,1.95,1.63],[6.5,1.3,1.3,1.3],[3.9,1.63,1.63,1.63,1.63,1.63],[5.2,1.3,5.2,1.3,1.3,1.3],[3.9,1.63,3.9,1.63,1.63,1.63],[5.2,1.3,1.3,1.3,1.3,1.3],[3.9,1.63,1.63,1.63,1.63,1.63,1.63,1.63],[5.2,1.3,5.2,1.3,5.2,1.3,1.3,1.3]]},"legend":{"title":"topology"}}}},
{"mark":{"type":"errorband","band":{"opacity":0.2}},"encoding":{"yError":{"field":"ea"},"color":{"field":"n","type":"nominal","legend":null}}}
]},
{"width":63,"height":10,"data":{"values":[]},"mark":"point","view":{"stroke":null}},
{"width":310,"height":212,"title":{"text":"(b) no. edges in the conflict graph","offset":27},
"layer":[
{"data":{"name":"b"},
"transform":[{"fold":["w5","w1","w2","e4","e3","r4","r3","r2","r1","g27","g9"],"as":["k","m"]},{"lookup":"k","from":{"data":{"name":"ser"},"key":"k","fields":["n","eb"]}}],
"encoding":{
"x":{"field":"t","type":"quantitative","scale":{"domain":[-1.5,30.5],"nice":false,"zero":false},"axis":{"values":[0,5,10,15,20,25,30],"format":"d","title":"time step no."}},
"y":{"field":"m","type":"quantitative","scale":{"domain":[-0.124,2.899],"nice":false,"zero":false},"axis":{"values":[0,0.5,1,1.5,2,2.5],"format":".1f","title":"edges in the conflict graph"}},
"color":{"field":"n","type":"nominal","scale":{"domain":["waxman81,5","waxman81,1","waxman81,2","erdos81,4","erdos81,3","ring81,4","ring81,3","ring81,2","ring81,1","grid27,3","grid9,9"],"range":["#f77189","#e5832f","#b59a32","#86a831","#33b15a","#35af8f","#37abb4","#3ca4dc","#8d93f3","#d279eb","#f565c8"]},"legend":{"title":"topology"}}},
"layer":[
{"mark":{"type":"line","strokeWidth":1.4,"clip":true},"encoding":{"strokeDash":{"field":"n","type":"nominal","scale":{"domain":["waxman81,5","waxman81,1","waxman81,2","erdos81,4","erdos81,3","ring81,4","ring81,3","ring81,2","ring81,1","grid27,3","grid9,9"],"range":[[1,0],[5.2,1.95],[1.3,1.3],[3.9,1.63,1.95,1.63],[6.5,1.3,1.3,1.3],[3.9,1.63,1.63,1.63,1.63,1.63],[5.2,1.3,5.2,1.3,1.3,1.3],[3.9,1.63,3.9,1.63,1.63,1.63],[5.2,1.3,1.3,1.3,1.3,1.3],[3.9,1.63,1.63,1.63,1.63,1.63,1.63,1.63],[5.2,1.3,5.2,1.3,5.2,1.3,1.3,1.3]]},"legend":{"title":"topology"}}}},
{"mark":{"type":"errorband","band":{"opacity":0.2}},"encoding":{"yError":{"field":"eb"},"color":{"field":"n","type":"nominal","legend":null}}}
]},
{"data":{"name":"lbl"},"mark":{"type":"text","align":"left","baseline":"alphabetic","dy":-1,"fontSize":10,"font":"DejaVu Sans","color":"#1a1a1a"},"encoding":{"text":{"field":"s","type":"nominal"},"x":{"datum":-2,"type":"quantitative"},"y":{"datum":2.899,"type":"quantitative"}}}
]},
{"width":69,"height":10,"data":{"values":[]},"mark":"point","view":{"stroke":null}},
{"width":322,"height":212,"title":{"text":"(c) amount of rejected streams","offset":27},"data":{"name":"c"},
"transform":[{"fold":["w5","w1","w2","e4","e3","r4","r3","r2","r1","g27","g9"],"as":["k","m"]},{"lookup":"k","from":{"data":{"name":"ser"},"key":"k","fields":["n","ec"]}}],
"encoding":{
"x":{"field":"t","type":"quantitative","scale":{"domain":[-1.5,31.4],"nice":false,"zero":false},"axis":{"values":[0,5,10,15,20,25,30],"format":"d","title":"time step no."}},
"y":{"field":"m","type":"quantitative","scale":{"domain":[-1.41,30.8],"nice":false,"zero":false},"axis":{"values":[0,5,10,15,20,25,30],"format":"d","title":"no. rejected streams"}},
"color":{"field":"n","type":"nominal","scale":{"domain":["waxman81,5","waxman81,1","waxman81,2","erdos81,4","erdos81,3","ring81,4","ring81,3","ring81,2","ring81,1","grid27,3","grid9,9"],"range":["#f77189","#e5832f","#b59a32","#86a831","#33b15a","#35af8f","#37abb4","#3ca4dc","#8d93f3","#d279eb","#f565c8"]},"legend":{"title":"topology"}}},
"layer":[
{"mark":{"type":"line","strokeWidth":1.4,"clip":true},"encoding":{"strokeDash":{"field":"n","type":"nominal","scale":{"domain":["waxman81,5","waxman81,1","waxman81,2","erdos81,4","erdos81,3","ring81,4","ring81,3","ring81,2","ring81,1","grid27,3","grid9,9"],"range":[[1,0],[5.2,1.95],[1.3,1.3],[3.9,1.63,1.95,1.63],[6.5,1.3,1.3,1.3],[3.9,1.63,1.63,1.63,1.63,1.63],[5.2,1.3,5.2,1.3,1.3,1.3],[3.9,1.63,3.9,1.63,1.63,1.63],[5.2,1.3,1.3,1.3,1.3,1.3],[3.9,1.63,1.63,1.63,1.63,1.63,1.63,1.63],[5.2,1.3,5.2,1.3,5.2,1.3,1.3,1.3]]},"legend":{"title":"topology"}}}},
{"mark":{"type":"errorband","band":{"opacity":0.2}},"encoding":{"yError":{"field":"ec"},"color":{"field":"n","type":"nominal","legend":null}}}
]}
],"spacing":0,"bounds":"flush","resolve":{"scale":{"color":"independent","strokeDash":"independent"}}},
{"hconcat":[
{"width":14,"height":10,"data":{"values":[]},"mark":"point","view":{"stroke":null}},
{"width":313,"height":206,"title":{"text":"(d) no. destinations per streams","offset":22},"data":{"name":"d"},
"transform":[{"fold":["w5","w1","w2","e4","e3","r4","r3","r2","r1","g27","g9"],"as":["k","m"]},{"lookup":"k","from":{"data":{"name":"ser"},"key":"k","fields":["n","ed"]}}],
"encoding":{
"x":{"field":"t","type":"quantitative","scale":{"domain":[-1.5,31.5],"nice":false,"zero":false},"axis":{"values":[0,5,10,15,20,25,30],"format":"d","title":"time step no."}},
"y":{"field":"m","type":"quantitative","scale":{"domain":[2.613,4.486],"nice":false,"zero":false},"axis":{"values":[2.75,3,3.25,3.5,3.75,4,4.25],"format":".2f","title":"E' = no. scheduled destinations / streams"}},
"color":{"field":"n","type":"nominal","scale":{"domain":["waxman81,5","waxman81,1","waxman81,2","erdos81,4","erdos81,3","ring81,4","ring81,3","ring81,2","ring81,1","grid27,3","grid9,9"],"range":["#f77189","#e5832f","#b59a32","#86a831","#33b15a","#35af8f","#37abb4","#3ca4dc","#8d93f3","#d279eb","#f565c8"]},"legend":{"title":"topology","orient":"top-right"}}},
"layer":[
{"mark":{"type":"line","strokeWidth":1.4,"clip":true},"encoding":{"strokeDash":{"field":"n","type":"nominal","scale":{"domain":["waxman81,5","waxman81,1","waxman81,2","erdos81,4","erdos81,3","ring81,4","ring81,3","ring81,2","ring81,1","grid27,3","grid9,9"],"range":[[1,0],[5.2,1.95],[1.3,1.3],[3.9,1.63,1.95,1.63],[6.5,1.3,1.3,1.3],[3.9,1.63,1.63,1.63,1.63,1.63],[5.2,1.3,5.2,1.3,1.3,1.3],[3.9,1.63,3.9,1.63,1.63,1.63],[5.2,1.3,1.3,1.3,1.3,1.3],[3.9,1.63,1.63,1.63,1.63,1.63,1.63,1.63],[5.2,1.3,5.2,1.3,5.2,1.3,1.3,1.3]]},"legend":{"title":"topology","orient":"top-right"}}}},
{"mark":{"type":"errorband","band":{"opacity":0.2}},"encoding":{"yError":{"field":"ed"},"color":{"field":"n","type":"nominal","legend":null}}}
]},
{"width":67,"height":10,"data":{"values":[]},"mark":"point","view":{"stroke":null}},
{"width":313,"height":206,"title":{"text":"(e) ΔE = E′ − E(X)","offset":22},"data":{"name":"e"},
"transform":[{"fold":["w5","w1","w2","e4","e3","r4","r3","r2","r1","g27","g9"],"as":["k","m"]},{"lookup":"k","from":{"data":{"name":"ser"},"key":"k","fields":["n","ee"]}}],
"encoding":{
"x":{"field":"t","type":"quantitative","scale":{"domain":[-1.5,31.5],"nice":false,"zero":false},"axis":{"values":[0,5,10,15,20,25,30],"format":"d","title":"time step no."}},
"y":{"field":"m","type":"quantitative","scale":{"domain":[-1.271,0.195],"nice":false,"zero":false},"axis":{"values":[-1.2,-1,-0.8,-0.6,-0.4,-0.2,0],"labelExpr":"replace(format(datum.value, '.1f'), '-', '−')","title":"ΔE"}},
"color":{"field":"n","type":"nominal","scale":{"domain":["waxman81,5","waxman81,1","waxman81,2","erdos81,4","erdos81,3","ring81,4","ring81,3","ring81,2","ring81,1","grid27,3","grid9,9"],"range":["#f77189","#e5832f","#b59a32","#86a831","#33b15a","#35af8f","#37abb4","#3ca4dc","#8d93f3","#d279eb","#f565c8"]},"legend":{"title":"topology","orient":"bottom-left"}}},
"layer":[
{"mark":{"type":"line","strokeWidth":1.4,"clip":true},"encoding":{"strokeDash":{"field":"n","type":"nominal","scale":{"domain":["waxman81,5","waxman81,1","waxman81,2","erdos81,4","erdos81,3","ring81,4","ring81,3","ring81,2","ring81,1","grid27,3","grid9,9"],"range":[[1,0],[5.2,1.95],[1.3,1.3],[3.9,1.63,1.95,1.63],[6.5,1.3,1.3,1.3],[3.9,1.63,1.63,1.63,1.63,1.63],[5.2,1.3,5.2,1.3,1.3,1.3],[3.9,1.63,3.9,1.63,1.63,1.63],[5.2,1.3,1.3,1.3,1.3,1.3],[3.9,1.63,1.63,1.63,1.63,1.63,1.63,1.63],[5.2,1.3,5.2,1.3,5.2,1.3,1.3,1.3]]},"legend":{"title":"topology","orient":"bottom-left"}}}},
{"mark":{"type":"errorband","band":{"opacity":0.2}},"encoding":{"yError":{"field":"ee"},"color":{"field":"n","type":"nominal","legend":null}}}
]},
{"width":66,"height":10,"data":{"values":[]},"mark":"point","view":{"stroke":null}},
{"width":305,"height":206,"title":{"text":"(f) candidate path-tree overlap","offset":22},"data":{"name":"f"},
"transform":[{"fold":["w5","w1","w2","e4","e3","r4","r3","r2","r1","g27","g9"],"as":["k","m"]},{"lookup":"k","from":{"data":{"name":"ser"},"key":"k","fields":["n","ef"]}}],
"encoding":{
"x":{"field":"t","type":"quantitative","scale":{"domain":[-1.45,30.6],"nice":false,"zero":false},"axis":{"values":[0,5,10,15,20,25,30],"format":"d","title":"time step no."}},
"y":{"field":"m","type":"quantitative","scale":{"domain":[0.2931,0.7208],"nice":false,"zero":false},"axis":{"values":[0.3,0.35,0.4,0.45,0.5,0.55,0.6,0.65,0.7],"format":".2f","title":"overlap median"}},
"color":{"field":"n","type":"nominal","scale":{"domain":["waxman81,5","waxman81,1","waxman81,2","erdos81,4","erdos81,3","ring81,4","ring81,3","ring81,2","ring81,1","grid27,3","grid9,9"],"range":["#f77189","#e5832f","#b59a32","#86a831","#33b15a","#35af8f","#37abb4","#3ca4dc","#8d93f3","#d279eb","#f565c8"]},"legend":{"title":"topology"}}},
"layer":[
{"mark":{"type":"line","strokeWidth":1.4,"clip":true},"encoding":{"strokeDash":{"field":"n","type":"nominal","scale":{"domain":["waxman81,5","waxman81,1","waxman81,2","erdos81,4","erdos81,3","ring81,4","ring81,3","ring81,2","ring81,1","grid27,3","grid9,9"],"range":[[1,0],[5.2,1.95],[1.3,1.3],[3.9,1.63,1.95,1.63],[6.5,1.3,1.3,1.3],[3.9,1.63,1.63,1.63,1.63,1.63],[5.2,1.3,5.2,1.3,1.3,1.3],[3.9,1.63,3.9,1.63,1.63,1.63],[5.2,1.3,1.3,1.3,1.3,1.3],[3.9,1.63,1.63,1.63,1.63,1.63,1.63,1.63],[5.2,1.3,5.2,1.3,5.2,1.3,1.3,1.3]]},"legend":{"title":"topology"}}}},
{"mark":{"type":"errorband","band":{"opacity":0.2}},"encoding":{"yError":{"field":"ef"},"color":{"field":"n","type":"nominal","legend":null}}}
]}
],"spacing":0,"bounds":"flush","resolve":{"scale":{"color":"independent","strokeDash":"independent"}}}
],
"spacing":6,
"resolve":{"scale":{"color":"independent","strokeDash":"independent"}},
"config":{
"font":"DejaVu Sans",
"view":{"stroke":"#1a1a1a","strokeWidth":1},
"axis":{"grid":true,"gridColor":"#c4c4c4","gridWidth":1,"domain":false,"ticks":true,"tickColor":"#1a1a1a","tickSize":3.5,"tickWidth":0.8,"labelFont":"DejaVu Sans","labelFontSize":10,"labelColor":"#1a1a1a","labelPadding":2,"labelFlush":false,"titleFont":"DejaVu Sans","titleFontSize":10,"titleFontWeight":"normal","titleColor":"#1a1a1a","titlePadding":4},
"legend":{"orient":"top-left","offset":4,"padding":4,"fillColor":"rgba(255,255,255,0.8)","strokeColor":"#cccccc","cornerRadius":3,"titleFont":"DejaVu Sans","titleFontSize":10,"titleFontWeight":"normal","titleColor":"#1a1a1a","titleAnchor":"middle","titlePadding":0,"labelFont":"DejaVu Sans","labelFontSize":10,"labelColor":"#1a1a1a","labelOffset":7,"symbolType":"stroke","symbolSize":400,"symbolStrokeWidth":1.5,"clipHeight":14,"rowPadding":0.4},
"title":{"orient":"bottom","anchor":"middle","frame":"bounds","offset":25,"font":"Liberation Serif","fontSize":26,"fontWeight":"normal","color":"#000000"}
}
}
